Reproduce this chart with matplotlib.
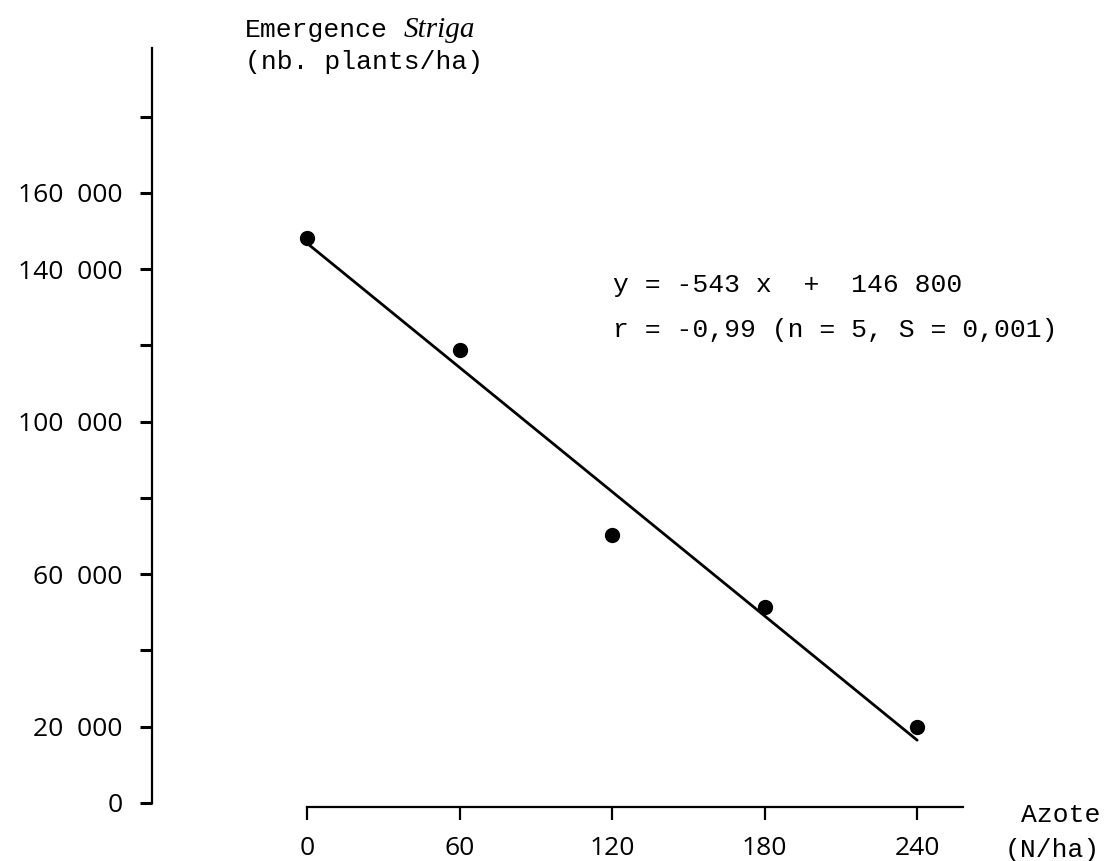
import numpy as np
import matplotlib.pyplot as plt

# données
azote = [0, 60, 120, 180, 240]
striga = [148200, 118800, 70300, 51400, 19900]
pente, ordonnee = -543, 146800

x_ticks = [0, 60, 120, 180, 240]
y_ticks = list(range(0, 200000, 20000))
y_labels = {0: "0", 20000: "20  000", 60000: "60  000", 100000: "100  000",
            140000: "140  000", 160000: "160  000"}

W, H = 1107, 861
mono = "Liberation Mono"
sans = "Open Sans"


def fx(px):
    return px / W


def fy(py):
    return 1 - py / H


fig = plt.figure(figsize=(W / 100, H / 100), dpi=100)
ax = fig.add_axes([fx(152), fy(807), fx(1000) - fx(152), fy(40) - fy(807)])
ax.set_xlim(-61.0, 272.6)
ax.set_ylim(-1050, 200100)

# droite de régression
xl = np.array([-2, 240])
ax.plot(xl, pente * xl + ordonnee, color="black", lw=2, solid_capstyle="round")
ax.plot(azote, striga, "o", color="black", ms=10)

for s in ["top", "right"]:
    ax.spines[s].set_visible(False)
ax.spines["left"].set_bounds(0, 198000)
ax.spines["bottom"].set_bounds(0, 258)
ax.spines["left"].set_linewidth(1.6)
ax.spines["bottom"].set_linewidth(1.6)

ax.set_yticks(y_ticks)
ax.set_yticklabels([y_labels.get(v, "") for v in y_ticks])
ax.set_xticks(x_ticks)
ax.set_xticklabels([str(v) for v in x_ticks])
ax.tick_params(axis="y", direction="out", length=9, width=2.2, pad=12,
               labelsize=19)
ax.tick_params(axis="x", direction="out", length=9, width=1.6, pad=12,
               labelsize=19)
for lab in ax.get_xticklabels() + ax.get_yticklabels():
    lab.set_fontfamily(sans)

# textes
fig.text(fx(245), fy(30), "Emergence", family=mono, fontsize=19, va="center")
fig.text(fx(404), fy(30), "Striga", family="Liberation Serif", style="italic",
         fontsize=21, va="center")
fig.text(fx(245), fy(62), "(nb. plants/ha)", family=mono, fontsize=19,
         va="center")
fig.text(fx(613), fy(285), "y = -543 x  +  146 800", family=mono, fontsize=19,
         va="center")
fig.text(fx(613), fy(330), "r = -0,99 (n = 5, S = 0,001)", family=mono,
         fontsize=19, va="center")
fig.text(fx(1100), fy(815), "Azote", family=mono, fontsize=19, va="center",
         ha="right")
fig.text(fx(1100), fy(850), "(N/ha)", family=mono, fontsize=19, va="center",
         ha="right")

fig.savefig("out.png", dpi=100, facecolor="white")
